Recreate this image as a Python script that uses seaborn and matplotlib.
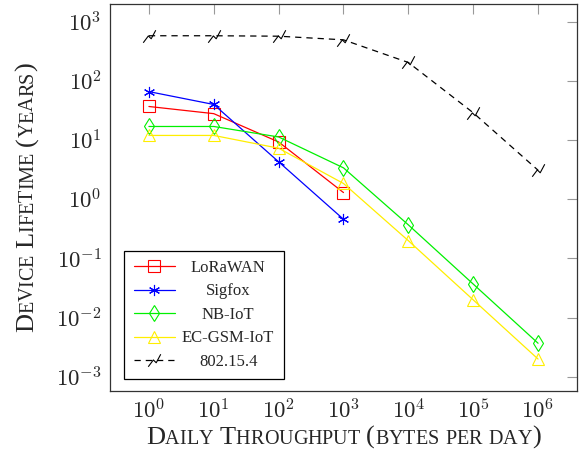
import numpy as np
import pandas as pd
import matplotlib
matplotlib.use("Agg")
import matplotlib.pyplot as plt
from matplotlib.path import Path
import seaborn as sns

sns.set_theme(style="white")
plt.rcParams['font.family'] = ['Liberation Serif', 'DejaVu Serif']
plt.rcParams['mathtext.fontset'] = 'cm'

# datos
throughput = [1, 10, 100, 1000, 10000, 100000, 1000000]
lorawan = [37, 28, 9.3, 1.3]
sigfox = [66, 40, 4.3, 0.46]
nbiot = [17, 17, 11.3, 3.4, 0.37, 0.037, 0.0037]
ecgsm = [12, 12, 7.3, 1.85, 0.2, 0.02, 0.002]
ieee802154 = [580, 580, 570, 495, 205, 29, 3.1]

xtick_vals = [1e0, 1e1, 1e2, 1e3, 1e4, 1e5, 1e6]
xtick_labels = [r'$10^{%d}$' % i for i in range(0, 7)]
ytick_vals = [1e-3, 1e-2, 1e-1, 1e0, 1e1, 1e2, 1e3]
ytick_labels = [r'$10^{%d}$' % i for i in range(-3, 4)]

# marcador en zigzag para 802.15.4
zigzag = Path([(-0.55, -0.55), (-0.1, 0.05), (0.15, -0.2), (0.55, 0.55)],
              [Path.MOVETO, Path.LINETO, Path.LINETO, Path.LINETO])

series = [
    ('LoRaWAN', lorawan, '#ff0000', 's', '-', 9),
    ('Sigfox', sigfox, '#0000ff', (6, 2, 0), '-', 8),
    ('NB-IoT', nbiot, '#00f000', 'd', '-', 8),
    ('EC-GSM-IoT', ecgsm, '#ffee00', '^', '-', 8),
    ('802.15.4', ieee802154, 'black', zigzag, (0, (5, 4)), 9),
]

fig = plt.figure(figsize=(5.79, 4.59), dpi=100)
ax = fig.add_axes([0.19, 0.148, 0.8065, 0.8433])

for nombre, vals, color, marker, ls, ms in series:
    df = pd.DataFrame({'x': throughput[:len(vals)], 'y': vals})
    sns.lineplot(data=df, x='x', y='y', ax=ax, color=color, label=nombre,
                 marker=marker, markersize=ms, markerfacecolor='none',
                 markeredgecolor=color, markeredgewidth=0.8,
                 linewidth=0.9, linestyle=ls)

ax.set_xscale('log')
ax.set_yscale('log')
ax.set_xlim(10 ** -0.6, 10 ** 6.6)
ax.set_ylim(10 ** -3.24, 10 ** 3.3)
ax.set_xticks(xtick_vals)
ax.set_xticklabels(xtick_labels, fontsize=16.5)
ax.set_yticks(ytick_vals)
ax.set_yticklabels(ytick_labels, fontsize=16.5)
ax.minorticks_off()
ax.tick_params(which='major', direction='in', length=7, width=0.8,
               color='#999999', top=True, right=True, pad=6)
for s in ax.spines.values():
    s.set_color('#333333')
    s.set_linewidth(0.9)
ax.set_xlabel('')
ax.set_ylabel('')

leg = ax.legend(loc='lower left', bbox_to_anchor=(0.031, 0.031), borderaxespad=0,
                fontsize=12, frameon=True, fancybox=False, edgecolor='black',
                handlelength=2.5, labelspacing=0.45, numpoints=1,
                borderpad=0.55, handletextpad=0.4)
leg.get_frame().set_linewidth(0.9)
leg.get_frame().set_alpha(1)

# centrar las etiquetas de la leyenda como en pgfplots
fig.canvas.draw()
r = fig.canvas.get_renderer()
cajas = [t.get_window_extent(r) for t in leg.get_texts()]
x0 = min(b.x0 for b in cajas)
x1 = max(b.x1 for b in cajas)
for t in leg.get_texts():
    tx, ty = t.get_transform().transform(t.get_position())
    fig.text((x0 + x1) / 2 / fig.bbox.width, ty / fig.bbox.height, t.get_text(),
             fontsize=12, ha='center', va=t.get_va())
    t.set_visible(False)


def versalitas(texto, xc, yc, big=19, small=14.5, rot=0):
    # versalitas simuladas: mayusculas grandes y pequenas
    partes = []
    for ch in texto:
        if ch.isupper() or not ch.isalpha():
            partes.append((ch, big if ch.isupper() or ch in '()' else small))
        else:
            partes.append((ch.upper(), small))
    objs = []
    for ch, sz in partes:
        t = fig.text(0, 0, ch, fontsize=sz, rotation=rot, ha='left', va='baseline',
                     rotation_mode='anchor')
        objs.append(t)
    anchos = []
    for t in objs:
        bb = t.get_window_extent(r)
        w = bb.width if rot == 0 else bb.height
        if t.get_text() == ' ':
            w = 0.25 * big * 100 / 72
        anchos.append(w)
    total = sum(anchos)
    W, H = fig.bbox.width, fig.bbox.height
    pos = -total / 2
    for t, w in zip(objs, anchos):
        if rot == 0:
            t.set_position((xc + pos / W, yc))
        else:
            t.set_position((xc, yc + pos / H))
        pos += w


versalitas('Daily Throughput (bytes per day)', (110 + 577) / 2 / 579, 15 / 459)
versalitas('Device Lifetime (years)', 33 / 579, 1 - (4 + 391) / 2 / 459, rot=90)

fig.savefig('out.png', dpi=100)
